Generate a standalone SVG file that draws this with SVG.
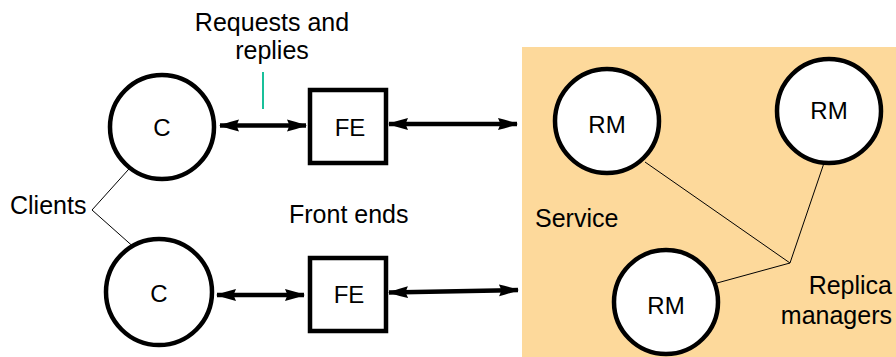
<svg xmlns="http://www.w3.org/2000/svg" width="896" height="357" viewBox="0 0 896 357">
  <defs>
    <marker id="head" viewBox="0 0 20 13" refX="19" refY="6.5" markerWidth="20" markerHeight="13" markerUnits="userSpaceOnUse" orient="auto-start-reverse">
      <path d="M0,0.5 Q10,3 20,6.5 Q10,10 0,12.5 L2.5,6.5 Z" fill="#000"/>
    </marker>
    <style>
      text { font-family: "Liberation Sans", Arial, sans-serif; fill: #000; }
      .lbl { font-size: 25px; }
      .nodeTxt { font-size: 24px; text-anchor: middle; dominant-baseline: central; }
      .circ { fill: #fff; stroke: #000; stroke-width: 4.5; }
      .box { fill: #fff; stroke: #000; stroke-width: 4.5; }
      .dbl { stroke: #000; stroke-width: 4.5; fill: none; marker-start: url(#head); marker-end: url(#head); }
      .thin { stroke: #000; stroke-width: 1; fill: none; }
    </style>
  </defs>

  <!-- service area -->
  <rect id="service-area" x="522" y="47" width="374" height="310" fill="#FDD99B"/>

  <!-- connectors -->
  <g id="connectors">
    <line class="dbl" x1="220" y1="125.5" x2="306" y2="125.5"/>
    <line class="dbl" x1="389" y1="124" x2="517" y2="124"/>
    <line class="dbl" x1="217" y1="295" x2="304" y2="295"/>
    <line class="dbl" x1="389" y1="292.5" x2="518" y2="290"/>
    <!-- annotation leaders -->
    <line x1="263" y1="72" x2="263" y2="109" stroke="#19C09A" stroke-width="2"/>
    <polyline class="thin" points="137,160 92,210 137,250"/>
    <polyline class="thin" points="645,162 790,263 824,163"/>
    <line class="thin" x1="717" y1="283" x2="790" y2="263"/>
  </g>

  <!-- clients -->
  <g id="client-top">
    <circle class="circ" cx="162" cy="127" r="52"/>
    <text class="nodeTxt" x="162" y="127">C</text>
  </g>
  <g id="client-bottom">
    <circle class="circ" cx="159" cy="292" r="53"/>
    <text class="nodeTxt" x="159" y="293">C</text>
  </g>

  <!-- front ends -->
  <g id="fe-top">
    <rect class="box" x="310" y="90" width="76" height="73"/>
    <text class="nodeTxt" x="350" y="127">FE</text>
  </g>
  <g id="fe-bottom">
    <rect class="box" x="310" y="258" width="76" height="73"/>
    <text class="nodeTxt" x="349" y="294">FE</text>
  </g>

  <!-- replica managers -->
  <g id="rm-1">
    <circle class="circ" cx="607" cy="121" r="52"/>
    <text class="nodeTxt" x="607" y="124">RM</text>
  </g>
  <g id="rm-2">
    <circle class="circ" cx="829" cy="111" r="52"/>
    <text class="nodeTxt" x="829" y="110">RM</text>
  </g>
  <g id="rm-3">
    <circle class="circ" cx="666" cy="302" r="52"/>
    <text class="nodeTxt" x="666" y="305">RM</text>
  </g>

  <!-- labels -->
  <g id="labels">
    <text class="lbl" x="272" y="31" text-anchor="middle">Requests and</text>
    <text class="lbl" x="272" y="59" text-anchor="middle">replies</text>
    <text class="lbl" x="10" y="214">Clients</text>
    <text class="lbl" x="289" y="223">Front ends</text>
    <text class="lbl" x="535" y="227">Service</text>
    <text class="lbl" x="892" y="294" text-anchor="end">Replica</text>
    <text class="lbl" x="892" y="324" text-anchor="end">managers</text>
  </g>
</svg>
